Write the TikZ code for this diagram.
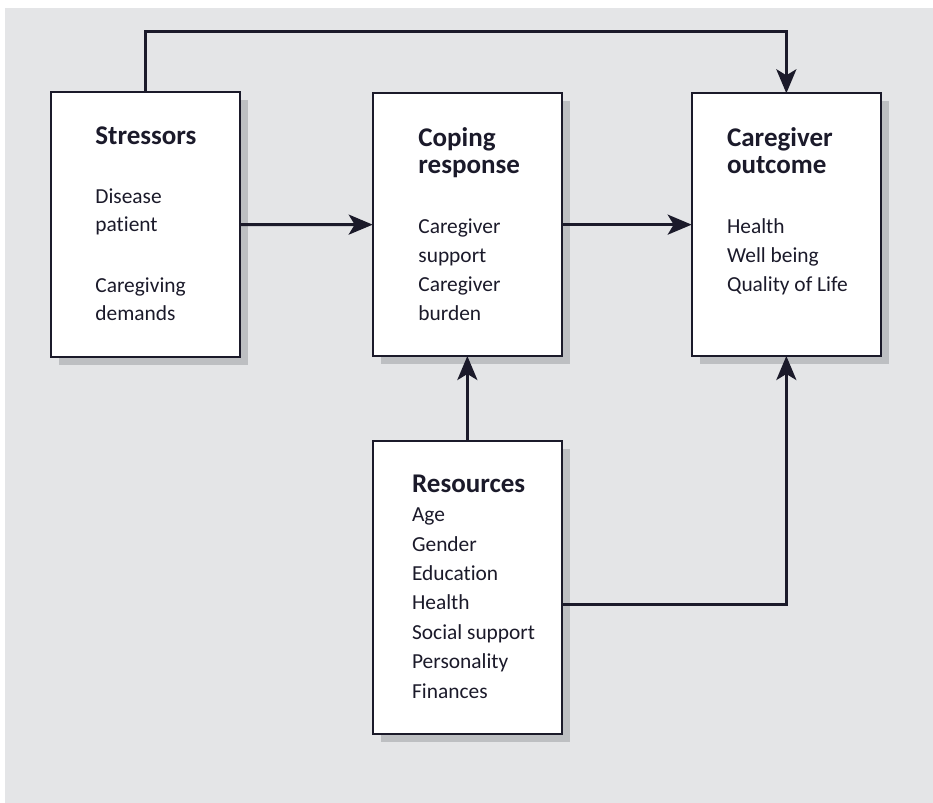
\documentclass[tikz,border=0pt]{standalone}
\usepackage{fontspec}
\setmainfont[Ligatures=NoCommon]{Carlito}
\usetikzlibrary{arrows.meta,shadows}
\definecolor{bggray}{HTML}{E4E5E7}
\definecolor{shadowgray}{HTML}{BDBFC2}
\definecolor{ink}{HTML}{1B1A2A}
\tikzset{
  box/.style={draw=ink, line width=1pt, fill=white, rectangle, inner sep=0pt, outer sep=0pt,
    drop shadow={shadow xshift=4pt, shadow yshift=-4pt, fill=shadowgray, draw=none, opacity=1}},
  arr/.style={draw=ink, line width=1.5pt, -{Stealth[length=12pt, width=10pt, inset=3pt]}},
  ttl/.style={anchor=base west, inner sep=0pt, font=\fontsize{13.5}{15}\selectfont\bfseries, text=ink},
  body/.style={anchor=base west, inner sep=0pt, font=\fontsize{10.7}{13}\selectfont, text=ink}
}
\begin{document}
\begin{tikzpicture}[x=0.5pt, y=-0.5pt]
\useasboundingbox (0,0) rectangle (933,803);
\fill[bggray] (5,8) rectangle (933,803);
% boxes
\node[box, minimum width=94.65pt, minimum height=132.2pt] (stress) at (145.65,224.5) {};
\node[box, minimum width=94.65pt, minimum height=131.35pt] (coping) at (467.35,224.65) {};
\node[box, minimum width=94.65pt, minimum height=131.35pt] (outcome) at (786.35,224.65) {};
\node[box, minimum width=94.65pt, minimum height=146.8pt] (res) at (467.35,587.5) {};
% stressors text
\node[ttl] (t1) at (95,144) {Stressors};
\node[body] (s1) at (95,203.3) {Disease};
\node[body] (s2) at (95,231.7) {patient};
\node[body] (s3) at (95,292.5) {Caregiving};
\node[body] (s4) at (95,320.5) {demands};
% coping text
\node[ttl] (t2a) at (418,146) {Coping};
\node[ttl] (t2b) at (418,173) {response};
\node[body] (c1) at (418,233) {Caregiver};
\node[body] (c2) at (418,262) {support};
\node[body] (c3) at (418,291.5) {Caregiver};
\node[body] (c4) at (418,320.5) {burden};
% outcome text
\node[ttl] (t3a) at (726.7,146) {Caregiver};
\node[ttl] (t3b) at (726.7,173) {outcome};
\node[body] (o1) at (726.7,233) {Health};
\node[body] (o2) at (726.7,262) {Well being};
\node[body] (o3) at (726.7,291.5) {Quality of Life};
% resources text
\node[ttl] (t4) at (411.7,492.7) {Resources};
\foreach \t [count=\i] in {Age,Gender,Education,Health,Social support,Personality,Finances}
  \node[body] (r\i) at (411.7,{521.7+29.4*(\i-1)}) {\t};
% connectors
\coordinate (topline) at (0,31.7);
\coordinate (resjoin) at (0,604.3);
\draw[arr] (stress.east) -- (coping.west);
\draw[arr] (coping.east) -- (outcome.west);
\draw[arr] (res.north) -- (coping.south);
\draw[arr] (res.east |- resjoin) -| (outcome.south);
\draw[arr] (stress.north) -- (stress.north |- topline) -| (outcome.north);
\end{tikzpicture}
\end{document}
